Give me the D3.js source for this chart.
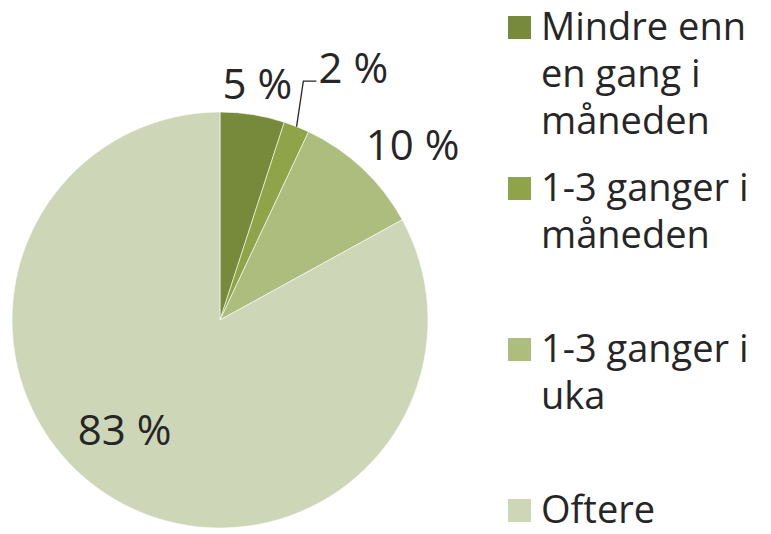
<!DOCTYPE html>
<html>
<head>
<meta charset="utf-8">
<script src="https://cdn.jsdelivr.net/npm/d3@7"></script>
<style>
  body { margin: 0; background: #fff; }
  svg { display: block; font-family: 'Open Sans', sans-serif; }
</style>
</head>
<body>
<div id="viz"></div>
<script>
const categories = ['Mindre enn en gang i måneden', '1-3 ganger i måneden', '1-3 ganger i uka', 'Oftere'];
const legendLines = [['Mindre enn', 'en gang i', 'måneden'], ['1-3 ganger i', 'måneden'], ['1-3 ganger i', 'uka'], ['Oftere']];
const values = [5, 2, 10, 83];
const labels = ['5 %', '2 %', '10 %', '83 %'];
const colors = ['#77893a', '#8fa448', '#adbd7d', '#cdd6b7'];

const width = 771, height = 534;
const cx = 220, cy = 320, radius = 208;
// label distance from centre, as a share of the radius
const labelDist = [1.15, 1.37, 1.25, 0.7];
const labelTurn = [0, 0.11, 0.08, 0.18];

const svg = d3.select('#viz')
    .append('svg')
    .attr('width', width)
    .attr('height', height);

const pie = d3.pie().sort(null).value(d => d);
const arcs = pie(values);

const arc = d3.arc().innerRadius(0).outerRadius(radius);

const g = svg.append('g').attr('transform', `translate(${cx},${cy})`);

g.selectAll('path').data(arcs)
    .enter()
    .append('path')
    .attr('d', arc)
    .attr('fill', (d, i) => colors[i])
    .attr('stroke', '#fff')
    .attr('stroke-width', 0.6);

const pos = (d, i) => {
    const a = (d.startAngle + d.endAngle) / 2 + labelTurn[i];
    const r = radius * labelDist[i];
    return [Math.sin(a) * r, -Math.cos(a) * r];
};

// leader line for the small slice
const small = arcs[1];
const mid = (small.startAngle + small.endAngle) / 2;
const p0 = [Math.sin(mid) * radius, -Math.cos(mid) * radius];
const lp = pos(small, 1);
g.append('polyline')
    .attr('points', [p0, [lp[0] - 50, lp[1] + 13], [lp[0] - 37, lp[1] + 13]].map(p => p.join(',')).join(' '))
    .attr('fill', 'none')
    .attr('stroke', '#262626')
    .attr('stroke-width', 1.3);

g.selectAll('text.lbl').data(arcs)
    .enter()
    .append('text')
    .attr('class', 'lbl')
    .attr('x', (d, i) => pos(d, i)[0])
    .attr('y', (d, i) => pos(d, i)[1])
    .attr('dy', '0.36em')
    .attr('text-anchor', 'middle')
    .attr('font-size', 42)
    .attr('fill', '#262626')
    .text((d, i) => labels[i]);

const legend = svg.append('g').attr('transform', 'translate(508,15)');

const item = legend.selectAll('g').data(categories)
    .enter()
    .append('g')
    .attr('transform', (d, i) => `translate(0,${i * 161})`);

item.append('rect')
    .attr('y', 1)
    .attr('width', 23)
    .attr('height', 23)
    .attr('fill', (d, i) => colors[i]);

item.append('text')
    .attr('x', 33)
    .attr('y', 25)
    .attr('font-size', 38)
    .attr('fill', '#262626')
    .selectAll('tspan')
    .data((d, i) => legendLines[i])
    .enter()
    .append('tspan')
    .attr('x', 33)
    .attr('dy', (d, j) => j === 0 ? 0 : 47)
    .text(d => d);
</script>
</body>
</html>
